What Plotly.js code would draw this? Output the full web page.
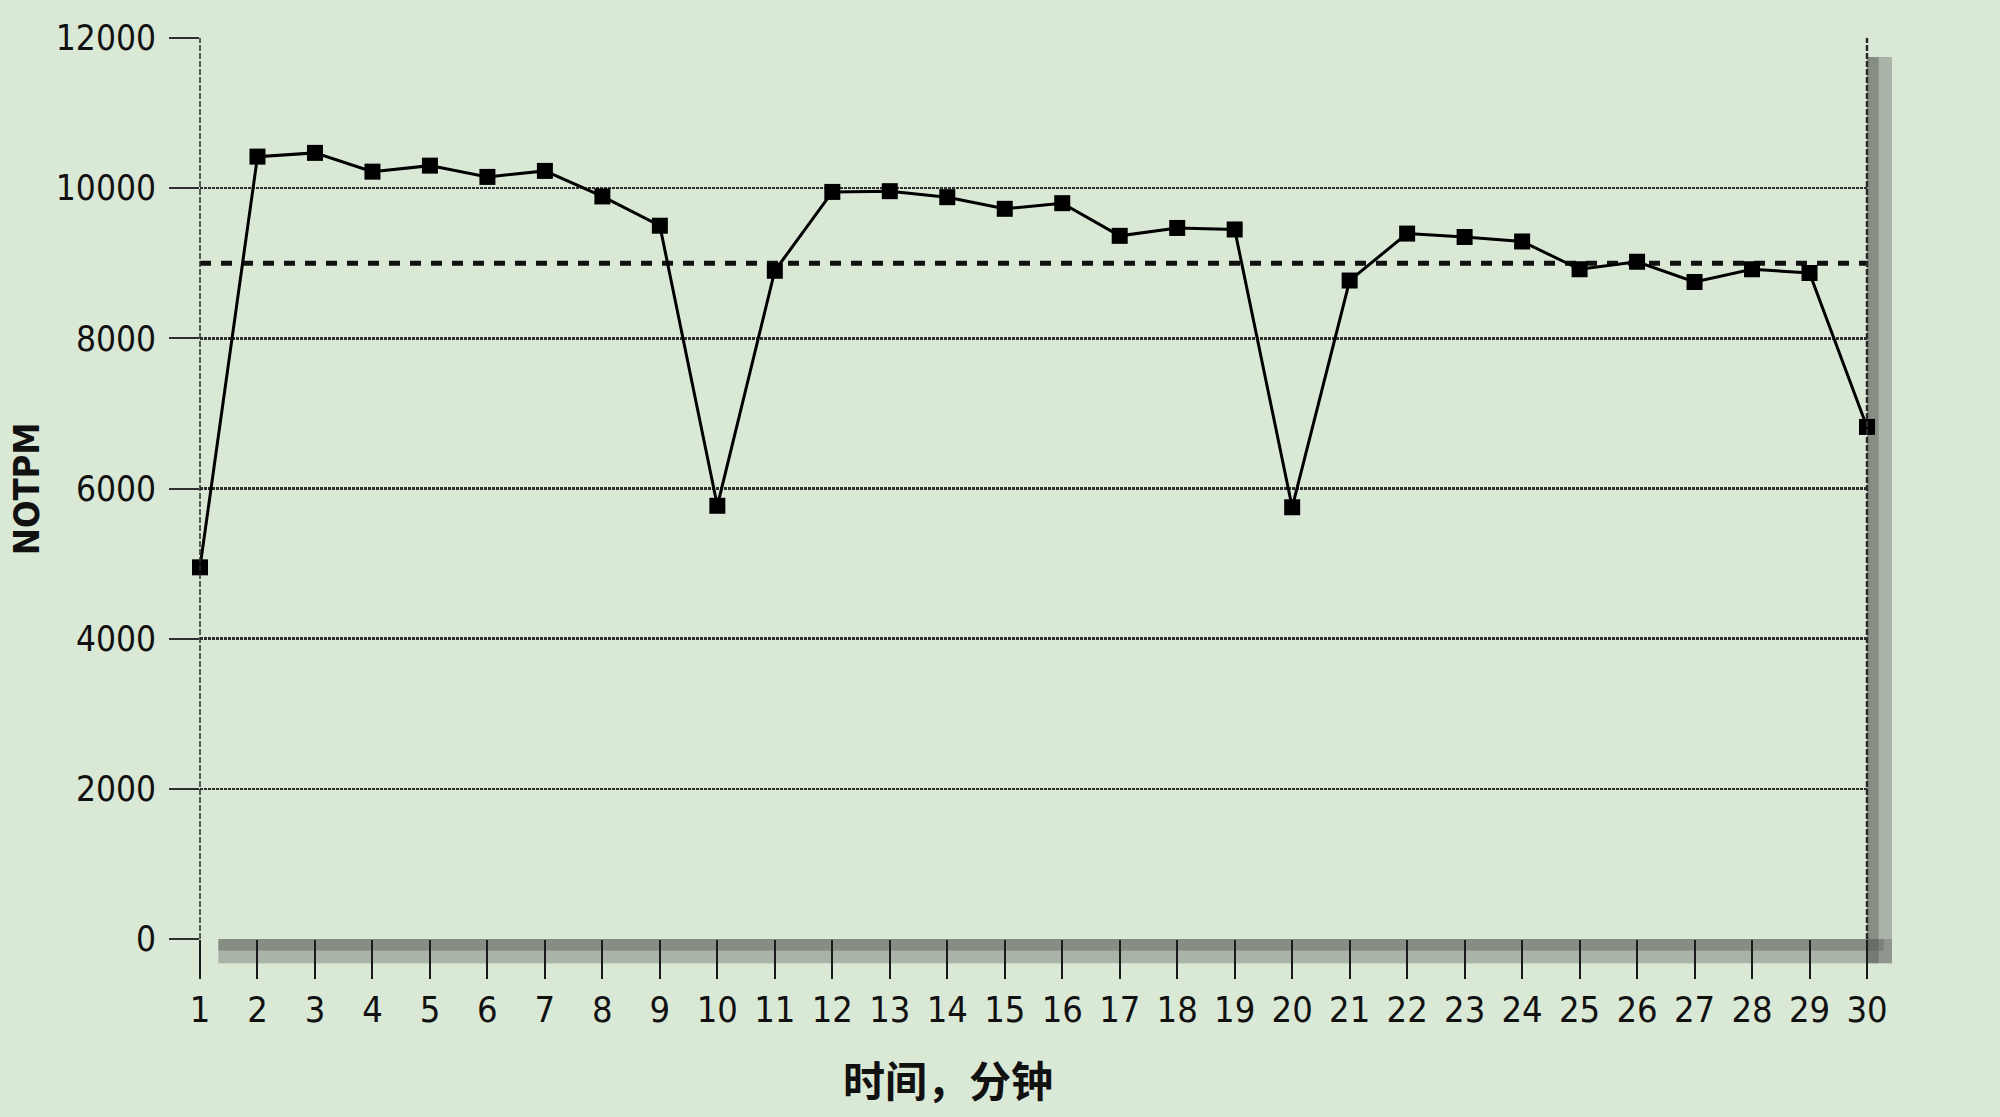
<!DOCTYPE html>
<html>
<head>
<meta charset="utf-8">
<script src="https://cdn.plot.ly/plotly-3.0.1.min.js"></script>
<style>
  html, body { margin: 0; padding: 0; background: #dae8d6; }
  #chart { width: 2000px; height: 1117px; }
  #chart .xtick text, #chart .ytick text { font-stretch: condensed; }
</style>
</head>
<body>
<div id="chart"></div>
<script>
// ---- data ----
const minutes = [1, 2, 3, 4, 5, 6, 7, 8, 9, 10, 11, 12, 13, 14, 15,
                 16, 17, 18, 19, 20, 21, 22, 23, 24, 25, 26, 27, 28, 29, 30];
const notpm = [4950, 10420, 10470, 10220, 10300, 10150, 10230, 9890, 9500, 5770,
               8900, 9950, 9960, 9880, 9725, 9800, 9365, 9470, 9450, 5750,
               8770, 9395, 9350, 9290, 8920, 9020, 8750, 8920, 8870, 6820];
const thresholdValue = 9000;
const yTickValues = [0, 2000, 4000, 6000, 8000, 10000, 12000];
const yTickLabels = ['0', '2000', '4000', '6000', '8000', '10000', '12000'];
const xTitle = '时间，分钟';
const yTitle = 'NOTPM';

const numFont = 'DejaVu Sans Condensed, DejaVu Sans, sans-serif';
const bg = '#dae8d6';
const gridCol = '#2e2e2e';

const traces = [
  {
    x: [minutes[0], minutes[minutes.length - 1]],
    y: [thresholdValue, thresholdValue],
    mode: 'lines',
    line: { color: '#111', width: 5, dash: '11px,10px' },
    hoverinfo: 'skip',
    showlegend: false,
    cliponaxis: false
  },
  {
    x: minutes,
    y: notpm,
    mode: 'lines+markers',
    line: { color: '#000', width: 3 },
    marker: { symbol: 'square', size: 16, color: '#000' },
    showlegend: false,
    cliponaxis: false
  }
];

const layout = {
  width: 2000,
  height: 1117,
  paper_bgcolor: bg,
  plot_bgcolor: 'rgba(0,0,0,0)',
  margin: { l: 200, r: 133, t: 38, b: 178 },
  showlegend: false,
  xaxis: {
    range: [minutes[0], minutes[minutes.length - 1]],
    tickmode: 'array',
    tickvals: minutes,
    ticktext: minutes.map(String),
    ticks: 'outside',
    ticklen: 39,
    tickwidth: 2,
    tickcolor: '#1a1a1a',
    showgrid: false,
    zeroline: false,
    showline: false,
    tickfont: { family: numFont, size: 36, color: '#111' },
    automargin: false
  },
  yaxis: {
    range: [0, 12000],
    tickmode: 'array',
    tickvals: yTickValues,
    ticktext: yTickLabels,
    ticks: 'outside',
    ticklen: 30,
    tickwidth: 2,
    tickcolor: gridCol,
    showgrid: true,
    gridcolor: gridCol,
    gridwidth: 2.5,
    griddash: '3px,1px',
    zeroline: false,
    showline: false,
    ticklabelstandoff: 6,
    tickfont: { family: numFont, size: 35, color: '#111' },
    automargin: false
  },
  annotations: [
    { text: xTitle, xref: 'paper', yref: 'paper', x: 0.449, y: -0.155,
      xanchor: 'center', yanchor: 'middle', showarrow: false,
      font: { family: 'Noto Sans CJK SC, sans-serif', size: 42, color: '#111', weight: 'bold' } },
    { text: yTitle, xref: 'paper', yref: 'paper', x: -0.104, y: 0.5,
      xanchor: 'center', yanchor: 'middle', textangle: -90, showarrow: false,
      font: { family: numFont, size: 36, color: '#111', weight: 'bold' } }
  ],
  shapes: [
    // drop shadow under the bottom edge
    { type: 'rect', xref: 'paper', yref: 'paper', x0: 0.011, x1: 1.015, y0: -0.027, y1: 0,
      fillcolor: 'rgba(110,115,110,0.45)', line: { width: 0 }, layer: 'below' },
    { type: 'rect', xref: 'paper', yref: 'paper', x0: 0.011, x1: 1.010, y0: -0.013, y1: 0,
      fillcolor: 'rgba(70,75,70,0.35)', line: { width: 0 }, layer: 'below' },
    // drop shadow along the right edge
    { type: 'rect', xref: 'paper', yref: 'paper', x0: 1.0, x1: 1.015, y0: -0.027, y1: 0.979,
      fillcolor: 'rgba(110,115,110,0.45)', line: { width: 0 }, layer: 'below' },
    { type: 'rect', xref: 'paper', yref: 'paper', x0: 1.0, x1: 1.007, y0: -0.027, y1: 0.979,
      fillcolor: 'rgba(70,75,70,0.35)', line: { width: 0 }, layer: 'below' },
    // left and right frame lines
    { type: 'line', xref: 'x domain', yref: 'y domain', x0: 0, x1: 0, y0: 0, y1: 1,
      line: { color: '#2a2a2a', width: 1.5, dash: '6px,2px' } },
    { type: 'line', xref: 'x domain', yref: 'y domain', x0: 1, x1: 1, y0: 0, y1: 1,
      line: { color: '#2a2a2a', width: 2.5, dash: '6px,2px' } }
  ]
};

Plotly.newPlot('chart', traces, layout, { staticPlot: true, displayModeBar: false });
</script>
</body>
</html>
